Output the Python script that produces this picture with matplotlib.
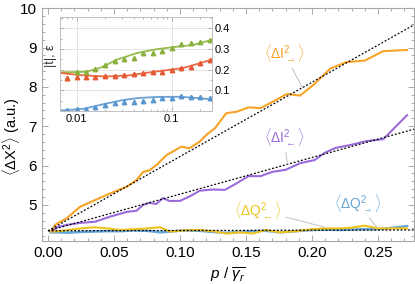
import numpy as np
from matplotlib import pyplot as plt, ticker as tick

plt.rcParams['font.family'] = ['Liberation Sans', 'DejaVu Sans']
plt.rcParams['mathtext.fontset'] = 'custom'
plt.rcParams['mathtext.rm'] = 'Liberation Sans'
plt.rcParams['mathtext.it'] = 'Liberation Sans:italic'

#main data (p / gamma_r vs variance)
p_orange = [0.003, 0.0053, 0.0142, 0.0242, 0.0356, 0.047, 0.0596, 0.067, 0.0722, 0.077, 0.082,
            0.090, 0.101, 0.107, 0.115, 0.120, 0.1265, 0.135, 0.143, 0.152, 0.161, 0.169,
            0.181, 0.191, 0.201, 0.214, 0.226, 0.240, 0.254, 0.272]
var_I_fwd = [4.34, 4.49, 4.66, 4.95, 5.12, 5.29, 5.46, 5.63, 5.84, 5.88, 6.01,
             6.27, 6.48, 6.44, 6.61, 6.78, 6.95, 7.33, 7.37, 7.48, 7.46, 7.60,
             7.82, 7.78, 8.05, 8.47, 8.63, 8.67, 8.91, 8.94]

p_purple = [0.003, 0.0066, 0.0142, 0.0242, 0.0356, 0.047, 0.0596, 0.067, 0.0722, 0.077, 0.082,
            0.087, 0.092, 0.100, 0.1076, 0.115, 0.125, 0.134, 0.143, 0.152, 0.161, 0.170,
            0.180, 0.191, 0.202, 0.210, 0.218, 0.229, 0.241, 0.254, 0.272]
var_I_bwd = [4.34, 4.43, 4.49, 4.54, 4.57, 4.70, 4.82, 4.85, 5.00, 5.05, 5.02,
             5.17, 5.10, 5.10, 5.22, 5.36, 5.39, 5.38, 5.55, 5.73, 5.73, 5.84,
             5.89, 6.06, 6.14, 6.33, 6.45, 6.52, 6.62, 6.67, 7.28]

p_flat = [0.002, 0.008, 0.015, 0.025, 0.035, 0.045, 0.055, 0.065, 0.075, 0.085, 0.0924,
          0.103, 0.115, 0.125, 0.135, 0.145, 0.155, 0.165, 0.176, 0.188, 0.2, 0.21,
          0.22, 0.23, 0.24, 0.25, 0.26, 0.272]
var_Q_fwd = [4.30, 4.30, 4.29, 4.31, 4.32, 4.33, 4.33, 4.35, 4.34, 4.30, 4.32,
             4.35, 4.34, 4.31, 4.29, 4.31, 4.33, 4.34, 4.30, 4.33, 4.36, 4.37,
             4.36, 4.37, 4.38, 4.38, 4.41, 4.46]
var_Q_bwd = [4.32, 4.33, 4.36, 4.40, 4.43, 4.40, 4.36, 4.38, 4.40, 4.43, 4.32,
             4.35, 4.36, 4.33, 4.27, 4.30, 4.27, 4.36, 4.30, 4.33, 4.38, 4.40,
             4.40, 4.42, 4.47, 4.40, 4.40, 4.40]

#linear guides
fit_p = [0.0, 0.28]
fit_upper = [4.34, 9.63]
fit_lower = [4.34, 6.95]
fit_flat = [4.34, 4.36]

#inset data
t_x = [0.0079, 0.01, 0.0126, 0.0158, 0.02, 0.0251, 0.0316, 0.0398, 0.0501, 0.0631,
       0.0794, 0.1, 0.126, 0.158, 0.2, 0.251]
green_pts = [0.16, 0.191, 0.188, 0.203, 0.224, 0.244, 0.251, 0.256, 0.28, 0.28,
             0.288, 0.304, 0.325, 0.328, 0.333, 0.344]
red_pts = [0.16, 0.164, 0.164, 0.164, 0.167, 0.171, 0.175, 0.18, 0.184, 0.187,
           0.191, 0.196, 0.208, 0.215, 0.232, 0.248]
blue_pts = [0.004, 0.011, 0.011, 0.02, 0.031, 0.039, 0.042, 0.042, 0.047, 0.052,
            0.063, 0.063, 0.071, 0.068, 0.068, 0.063]

green_cx = [0.0067, 0.0127, 0.018, 0.0264, 0.0427, 0.069, 0.104, 0.169, 0.267]
green_cy = [0.187, 0.19, 0.21, 0.248, 0.28, 0.299, 0.309, 0.32, 0.345]
red_cx = [0.0067, 0.012, 0.02, 0.035, 0.059, 0.132, 0.2, 0.267]
red_cy = [0.184, 0.172, 0.167, 0.172, 0.187, 0.208, 0.232, 0.25]
blue_cx = [0.0067, 0.012, 0.02, 0.03, 0.045, 0.07, 0.12, 0.2, 0.267]
blue_cy = [0.002, 0.011, 0.035, 0.052, 0.063, 0.068, 0.069, 0.062, 0.055]

c_orange = '#F7A325'
c_purple = '#9A6BDB'
c_yellow = '#EEC21C'
c_blue = '#66A6D8'
frame = '#a8a8a8'

fig = plt.figure(figsize=(4.15, 2.84), dpi=100)
ax = fig.add_axes([0.1005, 0.1514, 0.8971, 0.8194])

ax.plot(p_flat, var_Q_fwd, color=c_blue, lw=1.8)
ax.plot(p_flat, var_Q_bwd, color=c_yellow, lw=1.5)
ax.plot(p_purple, var_I_bwd, color=c_purple, lw=1.5)
ax.plot(p_orange, var_I_fwd, color=c_orange, lw=1.5)
for fy in (fit_upper, fit_lower, fit_flat):
    ax.plot(fit_p, fy, color='black', lw=0.9, ls=(0, (1.5, 1.5)))

ax.set_xlim(-0.0048, 0.2773)
ax.set_ylim(4.08, 10)
ax.xaxis.set_major_locator(tick.MultipleLocator(0.05))
ax.xaxis.set_minor_locator(tick.MultipleLocator(0.01))
ax.yaxis.set_major_locator(tick.MultipleLocator(1))
ax.yaxis.set_minor_locator(tick.MultipleLocator(0.2))
ax.xaxis.set_major_formatter(tick.FormatStrFormatter('%.2f'))
ax.tick_params(which='both', direction='in', top=True, right=True, color=frame,
               labelsize=11, width=0.7)
ax.tick_params(which='major', length=4)
ax.tick_params(which='minor', length=2)
for s in ax.spines.values():
    s.set_color(frame)
    s.set_linewidth(0.8)

ax.set_ylabel(r'$\langle\Delta\mathrm{X}^2\rangle$ (a.u.)', fontsize=10.5)
ax.yaxis.set_label_coords(-0.052, 0.45)
ax.set_xlabel(r'$p\ /\ \overline{\gamma_r}$', fontsize=11)
ax.xaxis.set_label_coords(0.5, -0.106)

#labels with leader lines
lead = dict(arrowstyle='-', color='#b8b8b8', lw=0.6, shrinkA=1, shrinkB=0)
ax.annotate(r'$\langle\Delta\mathrm{I}^2_{\rightarrow}\rangle$', xy=(0.193, 7.97),
            xytext=(0.1788, 8.86), ha='center', va='center', color=c_orange,
            fontsize=10, arrowprops=lead)
ax.annotate(r'$\langle\Delta\mathrm{I}^2_{\leftarrow}\rangle$', xy=(0.1813, 6.04),
            xytext=(0.1788, 6.72), ha='center', va='center', color=c_purple,
            fontsize=10, arrowprops=lead)
ax.annotate(r'$\langle\Delta\mathrm{Q}^2_{\leftarrow}\rangle$', xy=(0.2098, 4.43),
            xytext=(0.159, 4.87), ha='center', va='center', color=c_yellow,
            fontsize=10, arrowprops=lead)
ax.annotate(r'$\langle\Delta\mathrm{Q}^2_{\rightarrow}\rangle$', xy=(0.249, 4.43),
            xytext=(0.2348, 5.05), ha='center', va='center', color=c_blue,
            fontsize=10, arrowprops=lead)

#inset
ins = fig.add_axes([0.1446, 0.6092, 0.367, 0.331])
ins.set_xscale('log')
ins.grid(True, which='major', color='#e4e4e4', lw=0.7)
ins.set_axisbelow(True)
ins.plot(green_cx, green_cy, color='#97BB4A', lw=1.3)
ins.plot(red_cx, red_cy, color='#EC6A45', lw=1.3)
ins.plot(blue_cx, blue_cy, color='#6AA2D3', lw=1.3)
ins.plot(t_x, green_pts, '^', color='#8AB13C', ms=3.2, ls='none')
ins.plot(t_x, red_pts, '^', color='#E55A34', ms=3.2, ls='none')
ins.plot(t_x, blue_pts, '^', color='#5A97CE', ms=3.2, ls='none')
ins.set_xlim(0.0067, 0.267)
ins.set_ylim(0.0, 0.455)
ins.set_xticks([0.01, 0.1])
ins.set_xticklabels(['0.01', '0.1'])
ins.set_yticks([0.1, 0.2, 0.3, 0.4])
ins.yaxis.tick_right()
ins.tick_params(which='both', direction='in', left=True, right=True, top=True,
                color=frame, labelsize=8, pad=2, width=0.6)
ins.tick_params(which='major', length=3)
ins.tick_params(which='minor', length=1.5)
ins.yaxis.set_minor_locator(tick.MultipleLocator(0.05))
for s in ins.spines.values():
    s.set_color('#c0c0c0')
    s.set_linewidth(0.7)
fig.text(51 / 415, 1 - 56 / 284, '|t|, ε', rotation=90, ha='center', va='center',
         fontsize=9, color='#333333')

fig.savefig('out.png', dpi=100)
